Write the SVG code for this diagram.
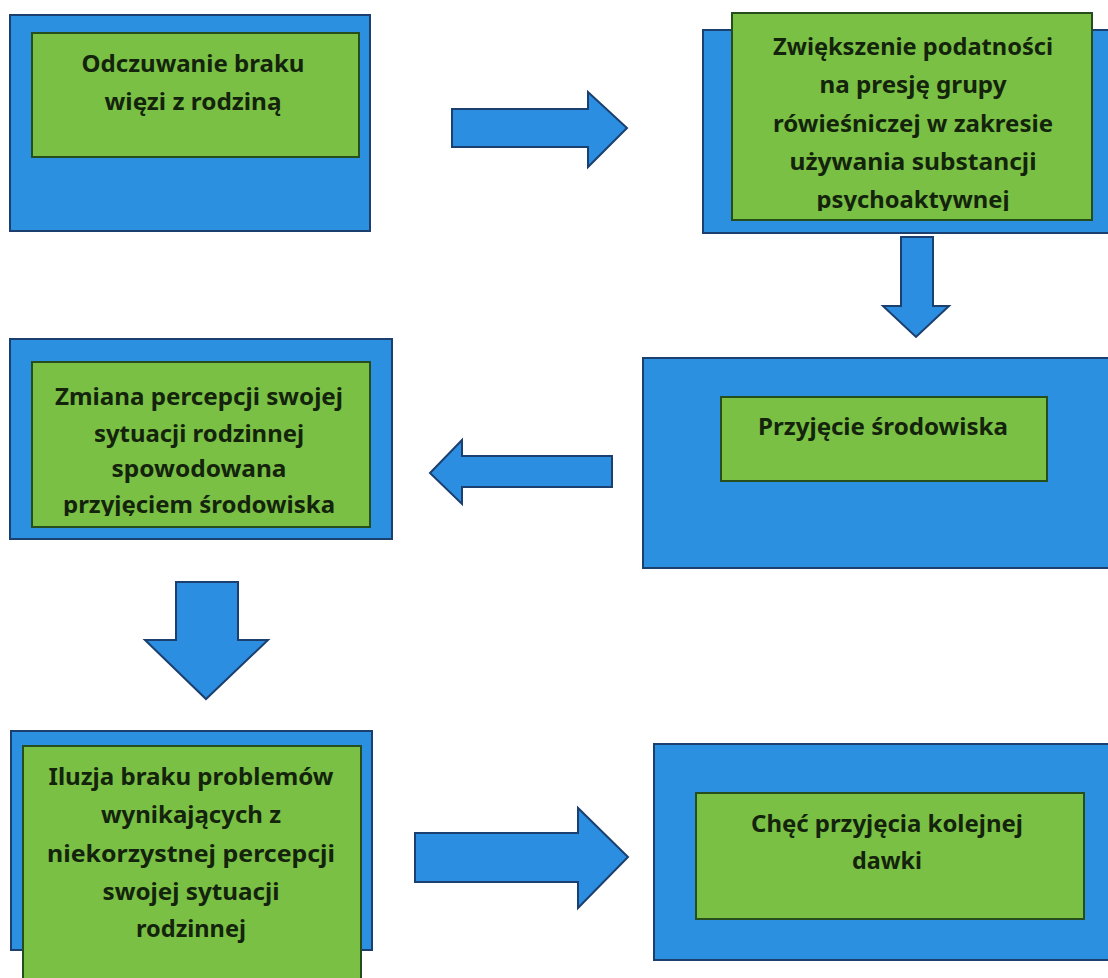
<svg xmlns="http://www.w3.org/2000/svg" width="1108" height="978" viewBox="0 0 1108 978">
<style>
.outer{fill:#2b90e0;stroke:#1b3f6e;stroke-width:2}
.inner{fill:#79c045;stroke:#264d1c;stroke-width:2}
.arrow{fill:#2b8ee0;stroke:#1b3f6e;stroke-width:2;stroke-linejoin:miter}
text{font-family:"Noto Sans","Open Sans","Liberation Sans",sans-serif;font-weight:bold;font-size:24px;fill:#14240c;text-anchor:middle}
</style>
<defs>
<clipPath id="c2"><rect x="732" y="13" width="360" height="198"/></clipPath>
<clipPath id="c3"><rect x="32" y="362" width="338" height="154"/></clipPath>
</defs>
<rect width="1108" height="978" fill="#ffffff"/>
<g id="connectors">
<polygon class="arrow" points="452,109 588,109 588,92 627,128 588,167 588,147 452,147"/>
<polygon class="arrow" points="901,237 933,237 933,306 949,306 916,337 883,306 901,306"/>
<polygon class="arrow" points="612,456 462,456 462,440 430,473 462,504 462,487 612,487"/>
<polygon class="arrow" points="176,582 238,582 238,640 268,640 206,699 145,640 176,640"/>
<polygon class="arrow" points="415,833 578,833 578,808 628,857 578,908 578,882 415,882"/>
</g>
<g id="node1">
<rect class="outer" x="10" y="15" width="360" height="216"/>
<rect class="inner" x="32" y="33" width="327" height="124"/>
<text x="193" y="72" textLength="223" lengthAdjust="spacingAndGlyphs">Odczuwanie braku</text>
<text x="193" y="110" textLength="177" lengthAdjust="spacingAndGlyphs">więzi z rodziną</text>
</g>
<g id="node2">
<rect class="outer" x="703" y="30" width="410" height="203"/>
<rect class="inner" x="732" y="13" width="360" height="207"/>
<g clip-path="url(#c2)">
<text x="913" y="55" textLength="280" lengthAdjust="spacingAndGlyphs">Zwiększenie podatności</text>
<text x="913" y="93" textLength="187" lengthAdjust="spacingAndGlyphs">na presję grupy</text>
<text x="913" y="132" textLength="280" lengthAdjust="spacingAndGlyphs">rówieśniczej w zakresie</text>
<text x="913" y="170" textLength="247" lengthAdjust="spacingAndGlyphs">używania substancji</text>
<text x="913" y="208" textLength="193" lengthAdjust="spacingAndGlyphs">psychoaktywnej</text>
</g>
</g>
<g id="node3">
<rect class="outer" x="10" y="339" width="382" height="200"/>
<rect class="inner" x="32" y="362" width="338" height="165"/>
<g clip-path="url(#c3)">
<text x="199" y="405" textLength="288" lengthAdjust="spacingAndGlyphs">Zmiana percepcji swojej</text>
<text x="199" y="442" textLength="210" lengthAdjust="spacingAndGlyphs">sytuacji rodzinnej</text>
<text x="199" y="477" textLength="175" lengthAdjust="spacingAndGlyphs">spowodowana</text>
<text x="199" y="513" textLength="272" lengthAdjust="spacingAndGlyphs">przyjęciem środowiska</text>
</g>
</g>
<g id="node4">
<rect class="outer" x="643" y="358" width="470" height="210"/>
<rect class="inner" x="721" y="397" width="326" height="84"/>
<text x="883" y="435" textLength="250" lengthAdjust="spacingAndGlyphs">Przyjęcie środowiska</text>
</g>
<g id="node5">
<rect class="outer" x="11" y="731" width="361" height="219"/>
<rect class="inner" x="23" y="746" width="338" height="240"/>
<text x="191" y="785" textLength="285" lengthAdjust="spacingAndGlyphs">Iluzja braku problemów</text>
<text x="191" y="823" textLength="180" lengthAdjust="spacingAndGlyphs">wynikających z</text>
<text x="191" y="862" textLength="288" lengthAdjust="spacingAndGlyphs">niekorzystnej percepcji</text>
<text x="191" y="900" textLength="177" lengthAdjust="spacingAndGlyphs">swojej sytuacji</text>
<text x="191" y="937" textLength="110" lengthAdjust="spacingAndGlyphs">rodzinnej</text>
</g>
<g id="node6">
<rect class="outer" x="654" y="744" width="460" height="216"/>
<rect class="inner" x="696" y="793" width="388" height="126"/>
<text x="887" y="832" textLength="272" lengthAdjust="spacingAndGlyphs">Chęć przyjęcia kolejnej</text>
<text x="887" y="869" textLength="70" lengthAdjust="spacingAndGlyphs">dawki</text>
</g>
</svg>
